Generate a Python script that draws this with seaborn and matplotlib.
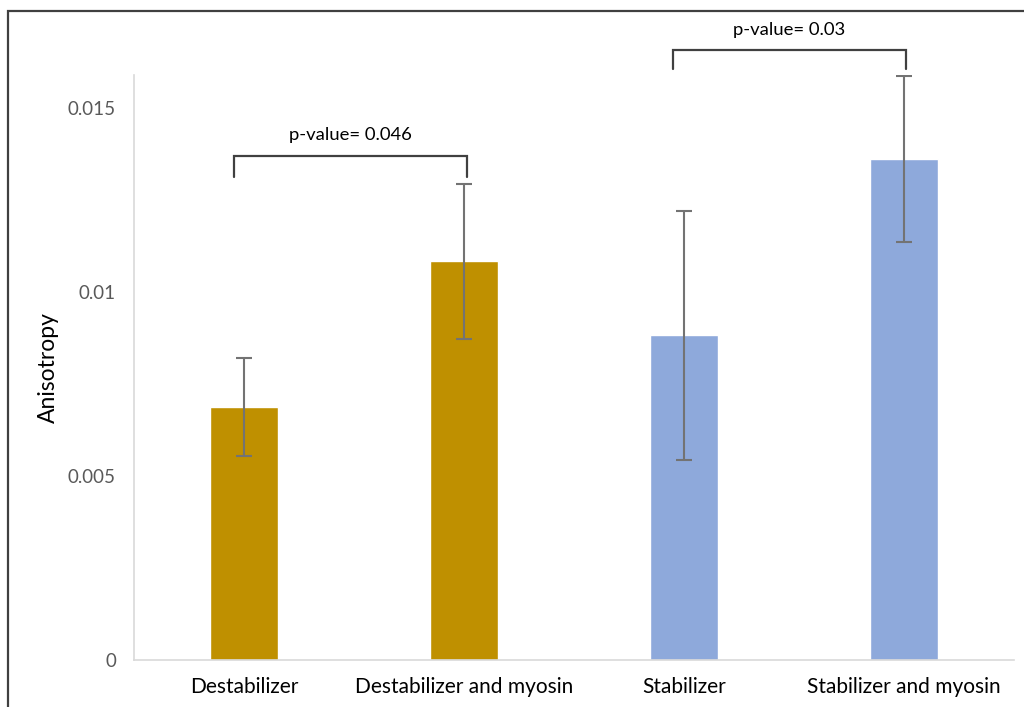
import matplotlib
matplotlib.use("Agg")
import matplotlib.pyplot as plt
import matplotlib.patches as mpatches
import seaborn as sns
import pandas as pd

# Data
categories = ["Destabilizer", "Destabilizer and myosin", "Stabilizer", "Stabilizer and myosin"]
anisotropy = [0.00688, 0.01083, 0.00882, 0.01362]
errors = [0.00134, 0.00210, 0.00339, 0.00225]
bar_colors = ["#BF9000", "#BF9000", "#8EA9DB", "#8EA9DB"]
y_ticks = [0, 0.005, 0.01, 0.015]
y_tick_labels = ["0", "0.005", "0.01", "0.015"]

# Significance brackets: (left x, right x, top y, leg bottom y, label)
brackets = [
    (-0.045, 1.014, 0.01371, 0.01313, "p-value= 0.046"),
    (1.95, 3.01, 0.01657, 0.01605, "p-value= 0.03"),
]

sns.set_style("white")
plt.rcParams["font.family"] = ["Lato", "DejaVu Sans"]

df = pd.DataFrame({"category": categories, "value": anisotropy})

fig = plt.figure(figsize=(10.24, 7.07), dpi=100)
ax = fig.add_axes([0.1309, 0.0665, 0.8593, 0.8275])

sns.barplot(data=df, x="category", y="value", hue="category",
            palette=bar_colors, width=0.31, legend=False, ax=ax,
            saturation=1, errorbar=None)

ax.errorbar(range(len(categories)), anisotropy, yerr=errors, fmt="none",
            ecolor="#737373", elinewidth=1.5, capsize=6, capthick=1.5, zorder=3)

ax.set_xlim(-0.5, 3.5)
ax.set_ylim(0, 0.0159)
ax.set_yticks(y_ticks)
ax.set_yticklabels(y_tick_labels)
ax.tick_params(axis="y", colors="#595959", labelsize=13.5, length=0, pad=13)
ax.tick_params(axis="x", colors="black", labelsize=15, length=0, pad=12)
ax.set_xlabel("")
ax.set_ylabel("Anisotropy", fontsize=16.5, color="black")
ax.yaxis.set_label_coords(-0.085, 0.5)

for side in ["top", "right"]:
    ax.spines[side].set_visible(False)
for side in ["left", "bottom"]:
    ax.spines[side].set_color("#D9D9D9")
    ax.spines[side].set_linewidth(1.2)

for x0, x1, ytop, ybot, label in brackets:
    ax.plot([x0, x0, x1, x1], [ybot, ytop, ytop, ybot], color="#404040",
            lw=1.6, clip_on=False, solid_joinstyle="miter")
    ax.text((x0 + x1) / 2, ytop + 0.00033, label, ha="center", va="bottom",
            fontsize=13.3, color="black", clip_on=False)

# Outer frame
frame = mpatches.Rectangle((8 / 1024, -0.05), 1.2, 1 - 11 / 707 + 0.05,
                           transform=fig.transFigure, fill=False,
                           edgecolor="#404040", lw=1.6)
fig.patches.append(frame)

fig.savefig("out.png", dpi=100)
